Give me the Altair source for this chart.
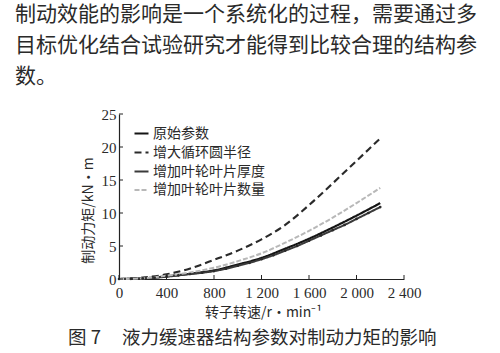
import altair as alt
import pandas as pd

# ---------------- data ----------------
speed = [0, 200, 400, 600, 800, 1000, 1200, 1400, 1600, 1800, 2000, 2200]
original = [0, 0.1, 0.4, 0.8, 1.3, 2.2, 3.2, 4.6, 6.1, 7.8, 9.6, 11.5]
radius = [0, 0.2, 0.7, 1.6, 2.9, 4.3, 6.0, 8.2, 11.2, 14.5, 17.9, 21.3]
blade_count = [0, 0.1, 0.5, 1.0, 1.7, 2.7, 3.9, 5.5, 7.3, 9.3, 11.5, 13.8]
speed_fine = [0, 100, 200, 300, 400, 500, 600, 700, 800, 900, 1000, 1100,
              1200, 1300, 1400, 1500, 1600, 1700, 1800, 1900, 2000, 2100, 2200]
thickness = [0, 0.03, 0.1, 0.2, 0.35, 0.55, 0.75, 0.95, 1.2, 1.55, 2.0, 2.45,
             3.0, 3.6, 4.3, 5.0, 5.8, 6.6, 7.4, 8.2, 9.1, 10.0, 10.9]

series_names = ["原始参数", "增大循环圆半径", "增加叶轮叶片厚度", "增加叶轮叶片数量"]
x_ticks = [0, 400, 800, 1200, 1600, 2000, 2400]
y_ticks = [0, 5, 10, 15, 20, 25]

paragraph = ["制动效能的影响是一个系统化的过程，需要通过多",
             "目标优化结合试验研究才能得到比较合理的结构参",
             "数。"]
caption_no = "图 7"
caption = "液力缓速器结构参数对制动力矩的影响"
x_title = "转子转速/r·min⁻¹"
y_title = "制动力矩/kN·m"

rows = []
for s, v in zip(speed, original):
    rows.append({"speed": s, "torque": v, "series": series_names[0]})
for s, v in zip(speed, radius):
    rows.append({"speed": s, "torque": v, "series": series_names[1]})
for s, v in zip(speed_fine, thickness):
    rows.append({"speed": s, "torque": v, "series": series_names[2]})
for s, v in zip(speed, blade_count):
    rows.append({"speed": s, "torque": v, "series": series_names[3]})
df = pd.DataFrame(rows)

# ---------------- style ----------------
CJK = "Noto Sans CJK SC"
SERIF = "Liberation Serif"
INK = "#2a2a2a"
W, H = 285, 165
L, T = 119, 114

colors = ["#151515", "#2a2a2a", "#3a3a3a", "#b8b8b8"]
dashes = [[1, 0], [7, 4], [1, 0], [5, 2]]
widths = [2.2, 2.0, 1.0, 1.4]

legend = alt.Legend(orient="none", legendX=14, legendY=11, symbolType="stroke",
                    symbolSize=196, labelFont=CJK, labelFontSize=14, labelColor=INK,
                    rowPadding=3, labelOffset=3, padding=0, title=None)

xscale = alt.Scale(domain=[0, 2400], nice=False)
yscale = alt.Scale(domain=[0, 25], nice=False)

xaxis = alt.Axis(values=x_ticks, labelExpr="replace(datum.label, ',', ' ')",
                 labelOverlap=False, labelFlush=False, tickSize=0, labelPadding=6,
                 labelFont=SERIF, labelFontSize=15, labelColor=INK, domainColor="#222",
                 domainWidth=1.2, grid=False, title=x_title, titleFont=CJK,
                 titleFontSize=14, titleFontWeight="normal", titleColor=INK,
                 titleX=144, titleY=33, titleBaseline="middle")
yaxis = alt.Axis(values=y_ticks, labelOverlap=False, labelFlush=False, tickSize=0,
                 labelPadding=3, labelFont=SERIF, labelFontSize=15, labelColor=INK,
                 domainColor="#222", domainWidth=1.2, grid=False, title=y_title,
                 titleFont=CJK, titleFontSize=14, titleFontWeight="normal",
                 titleColor=INK, titleAngle=270, titleX=-31, titleY=96,
                 titleAlign="center", titleBaseline="middle")

lines = alt.Chart(df).mark_line(interpolate="monotone").encode(
    x=alt.X("speed:Q", scale=xscale, axis=xaxis),
    y=alt.Y("torque:Q", scale=yscale, axis=yaxis),
    color=alt.Color("series:N", scale=alt.Scale(domain=series_names, range=colors), legend=legend),
    strokeDash=alt.StrokeDash("series:N", scale=alt.Scale(domain=series_names, range=dashes), legend=legend),
    strokeWidth=alt.StrokeWidth("series:N", scale=alt.Scale(domain=series_names, range=widths), legend=legend),
    order=alt.Order("speed:Q"),
)

dots = alt.Chart(df).transform_filter(
    alt.datum.series == series_names[2]
).mark_point(filled=True, size=7, color="#2a2a2a", opacity=1).encode(
    x=alt.X("speed:Q", scale=xscale, axis=xaxis),
    y=alt.Y("torque:Q", scale=yscale, axis=yaxis),
)

xt = alt.Chart(pd.DataFrame({"speed": x_ticks})).mark_rule(color="#222", strokeWidth=1).encode(
    x=alt.X("speed:Q", scale=xscale, axis=xaxis), y=alt.value(H), y2=alt.value(H - 4))
yt = alt.Chart(pd.DataFrame({"torque": y_ticks})).mark_rule(color="#222", strokeWidth=1).encode(
    y=alt.Y("torque:Q", scale=yscale, axis=yaxis), x=alt.value(0), x2=alt.value(4))


def label(text, x, y, size):
    return alt.Chart(pd.DataFrame({"t": [text]})).mark_text(
        font=CJK, fontSize=size, color=INK, align="left", baseline="middle"
    ).encode(text="t:N", x=alt.value(x - L), y=alt.value(y - T))


para = [label(paragraph[0], 15, 15, 21),
        label(paragraph[1], 15, 46, 21),
        label(paragraph[2], 15, 77, 21)]
cap = [label(caption_no, 68, 338, 18.5), label(caption, 122, 338, 18.5)]

chart = alt.layer(lines, dots, xt, yt, *para, *cap).properties(
    width=W, height=H,
    padding={"left": L, "top": T, "right": 500 - L - W, "bottom": 353 - T - H},
    autosize=alt.AutoSizeParams(type="none"),
    background="white",
).configure_view(stroke=None)

chart.save("out.html", embed_options={"renderer": "svg", "actions": False})
